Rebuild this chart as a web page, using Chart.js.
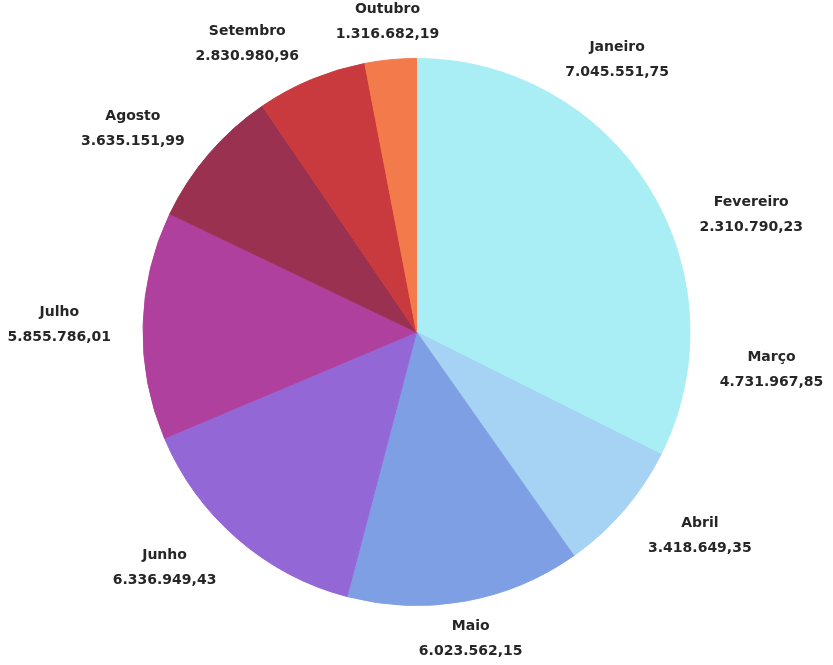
<!DOCTYPE html>
<html>
<head>
<meta charset="utf-8">
<script src="https://cdn.jsdelivr.net/npm/chart.js@4/dist/chart.umd.min.js"></script>
<style>
    html, body { margin: 0; padding: 0; background: #ffffff; }
    #wrap { width: 833px; height: 665px; }
</style>
</head>
<body>
<div id="wrap"><canvas id="pieChart" width="833" height="665"></canvas></div>
<script>
// Months and amounts
var months = ['Janeiro', 'Fevereiro', 'Março', 'Abril', 'Maio', 'Junho', 'Julho', 'Agosto', 'Setembro', 'Outubro'];
var amounts = [7045551.75, 2310790.23, 4731967.85, 3418649.35, 6023562.15, 6336949.43, 5855786.01, 3635151.99, 2830980.96, 1316682.19];
var sliceColors = ['#a8eef4', '#a8eef4', '#a8eef4', '#a6d3f3', '#7f9fe5', '#9467d6', '#b0409d', '#9b3150', '#c93a3e', '#f37a4b'];

// 1234567.8 -> "1.234.567,80"
function formatBR(value) {
    var parts = value.toFixed(2).split('.');
    var intPart = parts[0].replace(/\B(?=(\d{3})+(?!\d))/g, '.');
    return intPart + ',' + parts[1];
}

// Draw two-line labels outside each slice
var outsideLabels = {
    id: 'outsideLabels',
    afterDatasetsDraw: function(chart) {
        var ctx = chart.ctx;
        var meta = chart.getDatasetMeta(0);
        var lineHeight = 25;

        ctx.save();
        ctx.font = 'bold 14px "DejaVu Sans", sans-serif';
        ctx.fillStyle = '#262626';
        ctx.textAlign = 'center';
        ctx.textBaseline = 'middle';

        meta.data.forEach(function(arc, i) {
            var mid = (arc.startAngle + arc.endAngle) / 2;
            var sx = Math.cos(mid);
            var sy = Math.sin(mid);
            var dist = arc.outerRadius + 32;
            var ax = arc.x + sx * dist;
            var ay = arc.y + sy * dist;

            var lines = [months[i], formatBR(amounts[i])];
            var w = Math.max(ctx.measureText(lines[0]).width, ctx.measureText(lines[1]).width);
            var h = lineHeight * 2;

            var cx = ax;
            if (Math.abs(sx) >= 0.2) {
                cx = ax + (sx > 0 ? 1 : -1) * w / 2;
            }
            var cy = ay + h * sy / 8;

            ctx.fillText(lines[0], cx, cy - lineHeight / 2);
            ctx.fillText(lines[1], cx, cy + lineHeight / 2);
        });

        ctx.restore();
    }
};

var ctx = document.getElementById('pieChart').getContext('2d');
new Chart(ctx, {
    type: 'pie',
    data: {
        labels: months,
        datasets: [{
            data: amounts,
            backgroundColor: sliceColors,
            // same colour as the fill, hides the seams between equal slices
            borderColor: sliceColors,
            borderWidth: 1
        }]
    },
    options: {
        responsive: false,
        devicePixelRatio: 1,
        animation: false,
        layout: {
            padding: { top: 58, bottom: 59, left: 140, right: 140 }
        },
        plugins: {
            legend: { display: false },
            tooltip: { enabled: false }
        }
    },
    plugins: [outsideLabels]
});
</script>
</body>
</html>
